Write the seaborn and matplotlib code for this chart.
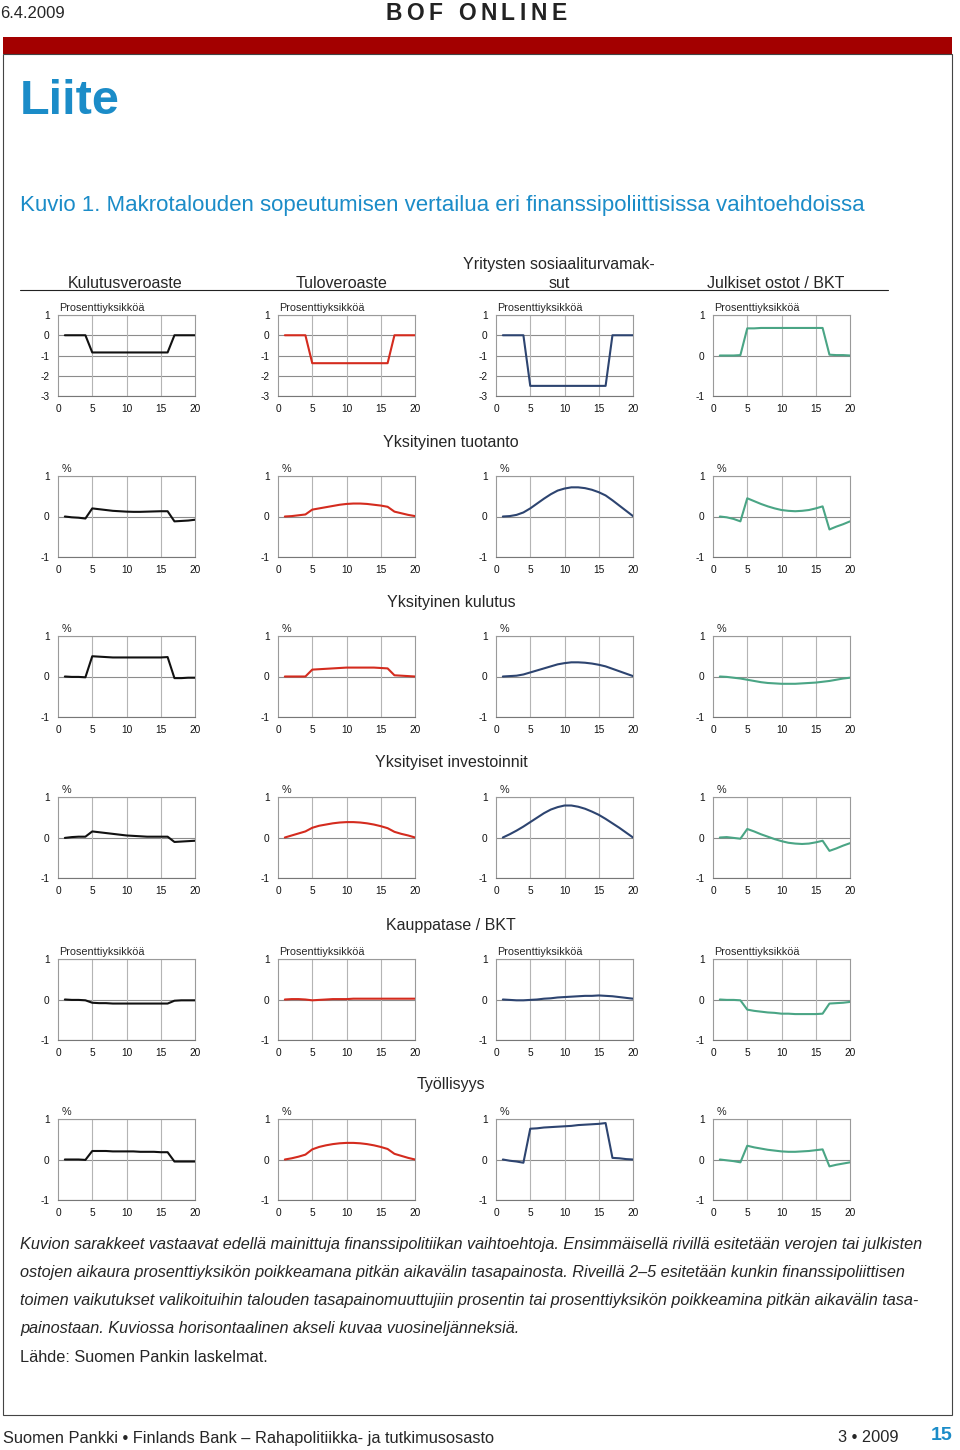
import numpy as np
import pandas as pd
import matplotlib
matplotlib.use("Agg")
import matplotlib.pyplot as plt
import seaborn as sns

sns.set_style("white")
plt.rcParams['font.family'] = ['Liberation Sans', 'DejaVu Sans']
plt.rcParams['axes.unicode_minus'] = False

W, H = 960, 1450

quarters = list(range(1, 21))

col_titles = ["Kulutusveroaste", "Tuloveroaste", "Yritysten sosiaaliturvamak-\nsut", "Julkiset ostot / BKT"]
row_titles = ["", "Yksityinen tuotanto", "Yksityinen kulutus", "Yksityiset investoinnit", "Kauppatase / BKT", "Työllisyys"]
row_units = ["Prosenttiyksikköä", "%", "%", "%", "Prosenttiyksikköä", "%"]
colors = ["#111111", "#d42b1e", "#2d4470", "#4aa585"]

# rivi 1: ohjausmuuttujat
vero_kulutus = [0, 0, 0, 0, -0.85, -0.85, -0.85, -0.85, -0.85, -0.85, -0.85, -0.85, -0.85, -0.85, -0.85, -0.85, 0, 0, 0, 0]
vero_tulo = [0, 0, 0, 0, -1.38, -1.38, -1.38, -1.38, -1.38, -1.38, -1.38, -1.38, -1.38, -1.38, -1.38, -1.38, 0, 0, 0, 0]
vero_sotu = [0, 0, 0, 0, -2.5, -2.5, -2.5, -2.5, -2.5, -2.5, -2.5, -2.5, -2.5, -2.5, -2.5, -2.5, 0, 0, 0, 0]
julk_ostot = [0, 0, 0, 0.01, 0.67, 0.67, 0.68, 0.68, 0.68, 0.68, 0.68, 0.68, 0.68, 0.68, 0.68, 0.68, 0.02, 0.01, 0.01, 0.0]

# Yksityinen tuotanto
tuot_1 = [0, -0.02, -0.03, -0.05, 0.20, 0.18, 0.16, 0.14, 0.13, 0.12, 0.115, 0.115, 0.12, 0.125, 0.13, 0.13, -0.12, -0.11, -0.10, -0.08]
tuot_2 = [0, 0.01, 0.03, 0.05, 0.17, 0.20, 0.23, 0.26, 0.29, 0.31, 0.32, 0.32, 0.31, 0.29, 0.27, 0.24, 0.12, 0.08, 0.04, 0.01]
tuot_3 = [0, 0.01, 0.04, 0.10, 0.20, 0.32, 0.44, 0.55, 0.64, 0.69, 0.72, 0.72, 0.70, 0.66, 0.60, 0.52, 0.40, 0.27, 0.14, 0.01]
tuot_4 = [0, -0.02, -0.06, -0.12, 0.45, 0.38, 0.31, 0.25, 0.20, 0.16, 0.14, 0.13, 0.14, 0.16, 0.20, 0.25, -0.32, -0.25, -0.19, -0.12]

# Yksityinen kulutus
kul_1 = [0, -0.01, -0.01, -0.02, 0.50, 0.49, 0.48, 0.47, 0.47, 0.47, 0.47, 0.47, 0.47, 0.47, 0.47, 0.48, -0.04, -0.04, -0.03, -0.03]
kul_2 = [0, 0, 0, 0, 0.17, 0.18, 0.19, 0.20, 0.21, 0.22, 0.22, 0.22, 0.22, 0.22, 0.21, 0.20, 0.03, 0.02, 0.01, 0.0]
kul_3 = [0, 0.01, 0.02, 0.05, 0.10, 0.15, 0.20, 0.25, 0.30, 0.33, 0.35, 0.35, 0.34, 0.32, 0.29, 0.25, 0.19, 0.13, 0.07, 0.01]
kul_4 = [0, -0.01, -0.03, -0.05, -0.08, -0.11, -0.14, -0.16, -0.17, -0.18, -0.18, -0.18, -0.17, -0.16, -0.15, -0.13, -0.11, -0.08, -0.05, -0.03]

# Yksityiset investoinnit
inv_1 = [-0.01, 0.01, 0.02, 0.02, 0.15, 0.13, 0.11, 0.09, 0.07, 0.05, 0.04, 0.03, 0.02, 0.02, 0.02, 0.02, -0.11, -0.10, -0.09, -0.08]
inv_2 = [0, 0.05, 0.10, 0.15, 0.24, 0.29, 0.32, 0.35, 0.37, 0.38, 0.38, 0.37, 0.35, 0.32, 0.28, 0.23, 0.14, 0.09, 0.05, 0.0]
inv_3 = [0, 0.08, 0.17, 0.27, 0.38, 0.49, 0.60, 0.69, 0.75, 0.79, 0.79, 0.76, 0.71, 0.64, 0.56, 0.46, 0.35, 0.24, 0.12, 0.0]
inv_4 = [0, 0.01, -0.01, -0.03, 0.21, 0.15, 0.08, 0.02, -0.04, -0.09, -0.13, -0.15, -0.16, -0.15, -0.12, -0.08, -0.33, -0.27, -0.20, -0.14]

# Kauppatase / BKT
kt_1 = [0, -0.01, -0.01, -0.02, -0.08, -0.09, -0.09, -0.10, -0.10, -0.10, -0.10, -0.10, -0.10, -0.10, -0.10, -0.10, -0.03, -0.02, -0.02, -0.02]
kt_2 = [0, 0.01, 0.01, 0.0, -0.02, -0.01, 0.0, 0.01, 0.01, 0.01, 0.02, 0.02, 0.02, 0.02, 0.02, 0.02, 0.02, 0.02, 0.02, 0.02]
kt_3 = [0, -0.01, -0.02, -0.02, -0.01, 0.0, 0.02, 0.03, 0.05, 0.06, 0.07, 0.08, 0.09, 0.09, 0.10, 0.09, 0.08, 0.06, 0.04, 0.02]
kt_4 = [0, -0.01, -0.01, -0.02, -0.25, -0.28, -0.30, -0.32, -0.33, -0.35, -0.35, -0.36, -0.36, -0.36, -0.36, -0.35, -0.10, -0.09, -0.08, -0.06]

# Työllisyys
tyo_1 = [0, 0, 0, -0.01, 0.21, 0.21, 0.21, 0.20, 0.20, 0.20, 0.20, 0.19, 0.19, 0.19, 0.18, 0.18, -0.05, -0.05, -0.05, -0.05]
tyo_2 = [0, 0.03, 0.07, 0.12, 0.25, 0.31, 0.35, 0.38, 0.40, 0.41, 0.41, 0.40, 0.38, 0.35, 0.31, 0.26, 0.14, 0.09, 0.04, 0.0]
tyo_3 = [0, -0.03, -0.05, -0.08, 0.76, 0.77, 0.79, 0.80, 0.81, 0.82, 0.83, 0.85, 0.86, 0.87, 0.88, 0.90, 0.04, 0.03, 0.01, 0.0]
tyo_4 = [0, -0.02, -0.04, -0.07, 0.34, 0.30, 0.27, 0.24, 0.22, 0.20, 0.19, 0.19, 0.20, 0.21, 0.23, 0.25, -0.17, -0.13, -0.10, -0.07]

rows = [
    [vero_kulutus, vero_tulo, vero_sotu, julk_ostot],
    [tuot_1, tuot_2, tuot_3, tuot_4],
    [kul_1, kul_2, kul_3, kul_4],
    [inv_1, inv_2, inv_3, inv_4],
    [kt_1, kt_2, kt_3, kt_4],
    [tyo_1, tyo_2, tyo_3, tyo_4],
]

footnote = [
    "Kuvion sarakkeet vastaavat edellä mainittuja finanssipolitiikan vaihtoehtoja. Ensimmäisellä rivillä esitetään verojen tai julkisten",
    "ostojen aikaura prosenttiyksikön poikkeamana pitkän aikavälin tasapainosta. Riveillä 2–5 esitetään kunkin finanssipoliittisen",
    "toimen vaikutukset valikoituihin talouden tasapainomuuttujiin prosentin tai prosenttiyksikön poikkeamina pitkän aikavälin tasa-",
    "painostaan. Kuviossa horisontaalinen akseli kuvaa vuosineljänneksiä.",
]

fig = plt.figure(figsize=(W / 100, H / 100), dpi=100)
renderer = fig.canvas.get_renderer()


def px(x, y):
    return x / W, 1 - y / H


def ptext(x, y, s, **kw):
    return fig.text(*px(x, y), s, **kw)


blue = "#1b8cc8"

# header
ptext(0, 14, "6.4.2009", fontsize=12, va="center", ha="left")

# letter-spaced masthead
head = "BOF ONLINE"
spacing = 4.5
chars = []
xpos = 0
for ch in head:
    t = ptext(xpos, 13, ch, fontsize=16.5, fontweight="bold", va="center", ha="left", color="#222222")
    w = t.get_window_extent(renderer).width if ch != " " else 6
    chars.append((t, xpos))
    xpos += w + spacing
total = xpos - spacing
start = 476 - total / 2
for t, xp in chars:
    t.set_position(px(start + xp, 13))

fig.patches.append(plt.Rectangle(px(3, 54), 949 / W, 17 / H, transform=fig.transFigure,
                                 facecolor="#a30000", edgecolor="none"))
fig.patches.append(plt.Rectangle(px(3, 1415), 949 / W, 1361 / H, transform=fig.transFigure,
                                 facecolor="none", edgecolor="#444444", linewidth=0.8))
ptext(20, 102, "Liite", fontsize=35, fontweight="bold", color=blue, va="center", ha="left")
ptext(20, 206, "Kuvio 1. Makrotalouden sopeutumisen vertailua eri finanssipoliittisissa vaihtoehdoissa",
      fontsize=16, color=blue, va="center", ha="left")

# column titles
col_centers = [125, 342, 559, 776]
for cx, t in zip(col_centers, col_titles):
    ptext(cx, 288, t, fontsize=11.5, ha="center", va="baseline", linespacing=1.35)
fig.add_artist(plt.Line2D([20 / W, 888 / W], [1 - 290 / H] * 2, transform=fig.transFigure,
                          color="#222222", linewidth=0.8))

col_left = [58, 278, 496, 713]
ax_w = 137
row_top = [315, 476, 636, 797, 959, 1119]
ax_h = 81

for r, series in enumerate(rows):
    if r > 0:
        ptext(451, row_top[r] - 34, row_titles[r], fontsize=11.5, ha="center", va="center")
    for c, vals in enumerate(series):
        x0, y0 = col_left[c], row_top[r]
        ax = fig.add_axes([x0 / W, 1 - (y0 + ax_h) / H, ax_w / W, ax_h / H])
        df = pd.DataFrame({"q": quarters, "v": vals})
        if r == 0 and c < 3:
            ylim, yt = (-3, 1), [-3, -2, -1, 0, 1]
        else:
            ylim, yt = (-1, 1), [-1, 0, 1]
        for v in yt:
            ax.axhline(v, color="#8c8c8c", linewidth=0.8, zorder=1)
        for v in [5, 10, 15]:
            ax.axvline(v, color="#b4b4b4", linewidth=0.8, zorder=1)
        sns.lineplot(data=df, x="q", y="v", ax=ax, color=colors[c], linewidth=1.5, zorder=3)
        ax.set_xlim(0, 20)
        ax.set_ylim(*ylim)
        ax.set_xticks([0, 5, 10, 15, 20])
        ax.set_yticks(yt)
        ax.set_xlabel("")
        ax.set_ylabel("")
        ax.tick_params(labelsize=7.3, length=0, pad=6, colors="#111111")
        for s in ax.spines.values():
            s.set_color("#9a9a9a")
            s.set_linewidth(0.8)
        ax.spines["bottom"].set_color("#777777")
        ax.text(0.03 if row_units[r] == "%" else 0.01, 1.03, row_units[r], transform=ax.transAxes,
                fontsize=7.8, ha="left", va="bottom")

# footnote
for i, line in enumerate(footnote):
    ptext(20, 1245 + 28 * i, line, fontsize=11.7, style="italic", ha="left", va="center")
ptext(20, 1357, "Lähde: Suomen Pankin laskelmat.", fontsize=11.7, ha="left", va="center")

# footer
ptext(3, 1438, "Suomen Pankki • Finlands Bank – Rahapolitiikka- ja tutkimusosasto", fontsize=11.8,
      ha="left", va="center")
ptext(838, 1438, "3 • 2009", fontsize=11.8, ha="left", va="center")
ptext(952, 1436, "15", fontsize=14, fontweight="bold", color=blue, ha="right", va="center")

fig.savefig("out.png", dpi=100)
